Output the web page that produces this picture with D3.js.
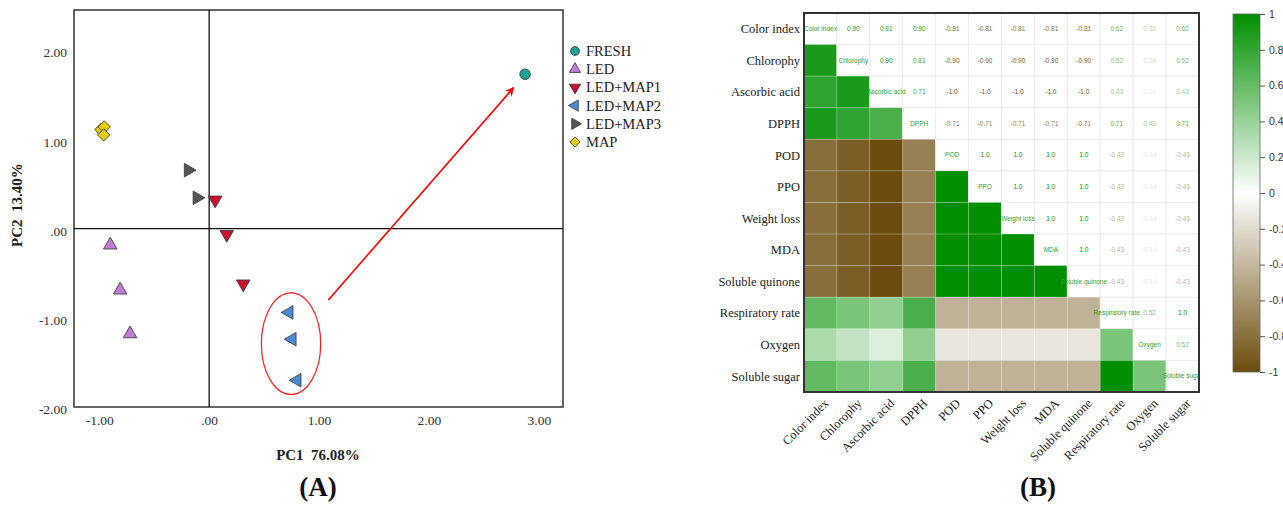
<!DOCTYPE html>
<html>
<head>
<meta charset="utf-8">
<script src="https://cdn.jsdelivr.net/npm/d3@7"></script>
<style>
  body { margin: 0; background: #fff; }
  svg { display: block; }
</style>
</head>
<body>
<div id="chart"></div>
<script>
// ---- panel A data (PCA scores) ----
const groups = ["FRESH", "LED", "LED+MAP1", "LED+MAP2", "LED+MAP3", "MAP"];
const groupColors = ["#19a396", "#c37bd6", "#c8102e", "#4a8ad6", "#555555", "#e2cd00"];
const groupShapes = ["circle", "up", "down", "left", "right", "diamond"];

const pointGroup = ["FRESH", "LED", "LED", "LED", "LED+MAP1", "LED+MAP1", "LED+MAP1",
  "LED+MAP2", "LED+MAP2", "LED+MAP2", "LED+MAP3", "LED+MAP3", "MAP", "MAP", "MAP"];
const pc1 = [2.875, -0.90, -0.81, -0.72, 0.055, 0.16, 0.31, 0.727, 0.755, 0.80, -0.19, -0.11, -0.985, -0.955, -0.96];
const pc2 = [1.73, -0.185, -0.69, -1.18, 0.32, -0.065, -0.62, -0.94, -1.24, -1.70, 0.655, 0.345, 1.11, 1.14, 1.05];

const xTicksA = [-1, 0, 1, 2, 3];
const yTicksA = [-2, -1, 0, 1, 2];

// annotation (data units)
const ellipseA = { cx: 0.745, cy: -1.29, rx: 0.27, ry: 0.57 };
const arrowA = { x1: 1.085, y1: -0.80, x2: 2.77, y2: 1.58 };

// ---- panel B data (correlation matrix) ----
const variables = ["Color index", "Chlorophy", "Ascorbic acid", "DPPH", "POD", "PPO",
  "Weight loss", "MDA", "Soluble quinone", "Respiratory rate", "Oxygen", "Soluble sugar"];
const corrRows = [
  [1, 0.90, 0.81, 0.90, -0.81, -0.81, -0.81, -0.81, -0.81, 0.62, 0.33, 0.62],
  [0.90, 1, 0.90, 0.81, -0.90, -0.90, -0.90, -0.90, -0.90, 0.52, 0.24, 0.52],
  [0.81, 0.90, 1, 0.71, -1, -1, -1, -1, -1, 0.43, 0.14, 0.43],
  [0.90, 0.81, 0.71, 1, -0.71, -0.71, -0.71, -0.71, -0.71, 0.71, 0.43, 0.71],
  [-0.81, -0.90, -1, -0.71, 1, 1, 1, 1, 1, -0.43, -0.14, -0.43],
  [-0.81, -0.90, -1, -0.71, 1, 1, 1, 1, 1, -0.43, -0.14, -0.43],
  [-0.81, -0.90, -1, -0.71, 1, 1, 1, 1, 1, -0.43, -0.14, -0.43],
  [-0.81, -0.90, -1, -0.71, 1, 1, 1, 1, 1, -0.43, -0.14, -0.43],
  [-0.81, -0.90, -1, -0.71, 1, 1, 1, 1, 1, -0.43, -0.14, -0.43],
  [0.62, 0.52, 0.43, 0.71, -0.43, -0.43, -0.43, -0.43, -0.43, 1, 0.52, 1],
  [0.33, 0.24, 0.14, 0.43, -0.14, -0.14, -0.14, -0.14, -0.14, 0.52, 1, 0.52],
  [0.62, 0.52, 0.43, 0.71, -0.43, -0.43, -0.43, -0.43, -0.43, 1, 0.52, 1]
];
const colorbarTicks = [1, 0.8, 0.6, 0.4, 0.2, 0, -0.2, -0.4, -0.6, -0.8, -1];

const serif = "'Times New Roman', 'Liberation Serif', serif";
const sans = "Arial, 'Liberation Sans', sans-serif";

const svg = d3.select("#chart").append("svg")
  .attr("width", 1283)
  .attr("height", 505);
const defs = svg.append("defs");

// ================= Panel A =================
const gA = svg.append("g").attr("class", "panel-a");

const xA = d3.scaleLinear().domain([-1.23, 3.22]).range([74, 563]);
const yA = d3.scaleLinear().domain([-2.0, 2.45]).range([407, 10]);

// SPSS style: ".00", "-1.00" (plain hyphen)
const fmtA = d => d === 0 ? ".00" : d.toFixed(2);

const xAxisA = gA.append("g")
  .attr("transform", "translate(0,407)")
  .call(d3.axisBottom(xA).tickValues(xTicksA).tickSize(0).tickPadding(8).tickFormat(fmtA));
const yAxisA = gA.append("g")
  .attr("transform", "translate(74,0)")
  .call(d3.axisLeft(yA).tickValues(yTicksA).tickSize(0).tickPadding(7).tickFormat(fmtA));
[xAxisA, yAxisA].forEach(ax => {
  ax.select(".domain").remove();
  ax.selectAll("text")
    .style("font-family", serif)
    .style("font-size", "13.5px")
    .attr("fill", "#333");
});
yAxisA.selectAll("text").attr("dy", "0.5em");

// frame
gA.append("rect")
  .attr("x", 74).attr("y", 10)
  .attr("width", 563 - 74).attr("height", 407 - 10)
  .attr("fill", "none")
  .attr("stroke", "#333")
  .attr("stroke-width", 1.5);

// zero lines
gA.append("line")
  .attr("x1", xA(0)).attr("x2", xA(0))
  .attr("y1", 10).attr("y2", 407)
  .attr("stroke", "#111").attr("stroke-width", 1.3);
gA.append("line")
  .attr("x1", 74).attr("x2", 563)
  .attr("y1", yA(0)).attr("y2", yA(0))
  .attr("stroke", "#111").attr("stroke-width", 1.3);

// ellipse + arrow
gA.append("ellipse")
  .attr("cx", xA(ellipseA.cx)).attr("cy", yA(ellipseA.cy))
  .attr("rx", xA(ellipseA.rx) - xA(0)).attr("ry", yA(0) - yA(ellipseA.ry))
  .attr("fill", "none")
  .attr("stroke", "#ff1a1a")
  .attr("stroke-width", 1.2);

defs.append("marker")
  .attr("id", "arrowhead")
  .attr("viewBox", "0 0 10 10")
  .attr("refX", 9).attr("refY", 5)
  .attr("markerWidth", 9).attr("markerHeight", 9)
  .attr("markerUnits", "userSpaceOnUse")
  .attr("orient", "auto")
  .append("path")
  .attr("d", "M0,0 L10,5 L0,10 L3,5 Z")
  .attr("fill", "#ff0000");

gA.append("line")
  .attr("x1", xA(arrowA.x1)).attr("y1", yA(arrowA.y1))
  .attr("x2", xA(arrowA.x2)).attr("y2", yA(arrowA.y2))
  .attr("stroke", "#ff0000")
  .attr("stroke-width", 1.6)
  .attr("marker-end", "url(#arrowhead)");

// symbols
function shapePath(shape, size) {
  if (shape === "circle") return d3.symbol(d3.symbolCircle, size * 1.1)();
  if (shape === "diamond") return d3.symbol(d3.symbolSquare, size * 0.95)();
  return d3.symbol(d3.symbolTriangle, size)();
}
function shapeRotate(shape) {
  return { up: 0, down: 180, left: -90, right: 90, diamond: 45, circle: 0 }[shape];
}
const groupIdx = g => groups.indexOf(g);

gA.append("g").selectAll("path")
  .data(pc1.map((d, i) => ({ x: d, y: pc2[i], g: pointGroup[i] })))
  .join("path")
  .attr("d", d => shapePath(groupShapes[groupIdx(d.g)], 80))
  .attr("transform", d => `translate(${xA(d.x)},${yA(d.y)}) rotate(${shapeRotate(groupShapes[groupIdx(d.g)])})`)
  .attr("fill", d => groupColors[groupIdx(d.g)])
  .attr("stroke", "#333")
  .attr("stroke-width", 0.8);

// legend
const legA = gA.append("g").attr("transform", "translate(575,51)");
groups.forEach((g, i) => {
  const row = legA.append("g").attr("transform", `translate(0,${i * 18.2})`);
  row.append("path")
    .attr("d", shapePath(groupShapes[i], 55))
    .attr("transform", `rotate(${shapeRotate(groupShapes[i])})`)
    .attr("fill", groupColors[i])
    .attr("stroke", "#333")
    .attr("stroke-width", 0.8);
  row.append("text")
    .attr("x", 11).attr("y", 5)
    .style("font-family", serif)
    .style("font-size", "14.5px")
    .attr("fill", "#222")
    .text(g);
});

// axis labels + title
gA.append("text")
  .attr("x", 318).attr("y", 460)
  .attr("text-anchor", "middle")
  .style("font-family", serif)
  .style("font-size", "15px")
  .style("font-weight", "bold")
  .style("white-space", "pre")
  .attr("fill", "#222")
  .text("PC1  76.08%");

gA.append("text")
  .attr("transform", "translate(22,205) rotate(-90)")
  .attr("text-anchor", "middle")
  .style("font-family", serif)
  .style("font-size", "15px")
  .style("font-weight", "bold")
  .style("white-space", "pre")
  .attr("fill", "#222")
  .text("PC2  13.40%");

gA.append("text")
  .attr("x", 318).attr("y", 496)
  .attr("text-anchor", "middle")
  .style("font-family", serif)
  .style("font-size", "27px")
  .style("font-weight", "bold")
  .attr("fill", "#111")
  .text("(A)");

// ================= Panel B =================
const gB = svg.append("g").attr("class", "panel-b");

const mLeft = 804, mRight = 1199, mTop = 13, mBottom = 392;
const xB = d3.scaleBand().domain(variables).range([mLeft, mRight]);
const yB = d3.scaleBand().domain(variables).range([mTop, mBottom]);
const color = d3.scaleLinear().domain([-1, 0, 1]).range(["#6b4c0d", "#ffffff", "#008f00"]);

const fmtB = v => Math.abs(v) === 1 ? v.toFixed(1) : v.toFixed(2);

defs.append("clipPath")
  .attr("id", "matrix-clip")
  .append("rect")
  .attr("x", mLeft).attr("y", mTop)
  .attr("width", mRight - mLeft).attr("height", mBottom - mTop);

const cells = [];
variables.forEach((rv, i) => {
  variables.forEach((cv, j) => {
    cells.push({ row: rv, col: cv, i, j, v: corrRows[i][j] });
  });
});

const matrix = gB.append("g").attr("clip-path", "url(#matrix-clip)");

matrix.selectAll("rect.cell")
  .data(cells)
  .join("rect")
  .attr("class", "cell")
  .attr("x", d => xB(d.col))
  .attr("y", d => yB(d.row))
  .attr("width", xB.bandwidth())
  .attr("height", yB.bandwidth())
  .attr("fill", d => d.j < d.i ? color(d.v) : "#ffffff")
  .attr("stroke", d => d.j < d.i ? "rgba(255,255,255,0.18)" : "#ececec")
  .attr("stroke-width", 1);

matrix.selectAll("text.cell-text")
  .data(cells.filter(d => d.j >= d.i))
  .join("text")
  .attr("class", "cell-text")
  .attr("x", d => xB(d.col) + xB.bandwidth() / 2)
  .attr("y", d => yB(d.row) + yB.bandwidth() / 2)
  .attr("dy", "0.35em")
  .attr("text-anchor", "middle")
  .style("font-family", sans)
  .style("font-size", "6.5px")
  .attr("fill", d => d.i === d.j ? "#2f9e2f" : color(d.v))
  .text(d => d.i === d.j ? d.row : fmtB(d.v));

gB.append("rect")
  .attr("x", mLeft).attr("y", mTop)
  .attr("width", mRight - mLeft).attr("height", mBottom - mTop)
  .attr("fill", "none")
  .attr("stroke", "#333")
  .attr("stroke-width", 2);

// row labels
gB.append("g").selectAll("text")
  .data(variables)
  .join("text")
  .attr("x", mLeft - 4)
  .attr("y", d => yB(d) + yB.bandwidth() / 2)
  .attr("dy", "0.35em")
  .attr("text-anchor", "end")
  .style("font-family", serif)
  .style("font-size", "12.5px")
  .attr("fill", "#222")
  .text(d => d);

// column labels
gB.append("g").selectAll("text")
  .data(variables)
  .join("text")
  .attr("transform", d => `translate(${xB(d) + xB.bandwidth() / 2 + 9},${mBottom + 12}) rotate(-45)`)
  .attr("text-anchor", "end")
  .style("font-family", serif)
  .style("font-size", "12.5px")
  .attr("fill", "#222")
  .text(d => d);

// colorbar
const cbX = 1233, cbW = 27;
const yC = d3.scaleLinear().domain([-1, 1]).range([372, 14]);
const grad = defs.append("linearGradient")
  .attr("id", "cb-grad")
  .attr("x1", 0).attr("y1", 1).attr("x2", 0).attr("y2", 0);
[-1, -0.5, 0, 0.5, 1].forEach(v => {
  grad.append("stop")
    .attr("offset", `${(v + 1) * 50}%`)
    .attr("stop-color", color(v));
});
gB.append("rect")
  .attr("x", cbX).attr("y", yC(1))
  .attr("width", cbW).attr("height", yC(-1) - yC(1))
  .attr("fill", "url(#cb-grad)")
  .attr("stroke", "#666")
  .attr("stroke-width", 0.8);

const cbAxis = gB.append("g")
  .attr("transform", `translate(${cbX + cbW},0)`)
  .call(d3.axisRight(yC).tickValues(colorbarTicks).tickSize(5).tickPadding(4).tickFormat(d => String(d)));
cbAxis.select(".domain").remove();
cbAxis.selectAll("line").attr("stroke", "#555");
cbAxis.selectAll("text")
  .style("font-family", sans)
  .style("font-size", "10.5px")
  .attr("fill", "#333");

gB.append("text")
  .attr("x", 1038).attr("y", 496)
  .attr("text-anchor", "middle")
  .style("font-family", serif)
  .style("font-size", "27px")
  .style("font-weight", "bold")
  .attr("fill", "#111")
  .text("(B)");
</script>
</body>
</html>
